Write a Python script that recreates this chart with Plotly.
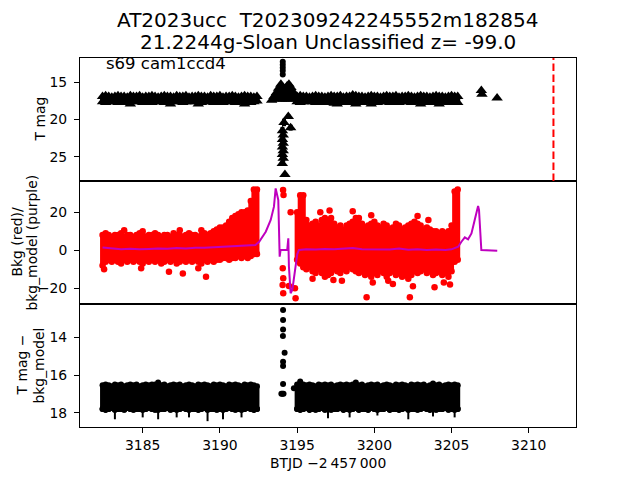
import numpy as np
import plotly.graph_objects as go
from plotly.subplots import make_subplots

# ---------------- data ----------------
T_LEFT = [3182.4, 3182.6, 3182.8, 3183.0, 3183.2, 3183.4, 3183.6, 3183.8, 3184.0, 3184.2,
          3184.4, 3184.6, 3184.8, 3185.0, 3185.2, 3185.4, 3185.6, 3185.8, 3186.0, 3186.2,
          3186.4, 3186.6, 3186.8, 3187.0, 3187.2, 3187.4, 3187.6, 3187.8, 3188.0, 3188.2,
          3188.4, 3188.6, 3188.8, 3189.0, 3189.2, 3189.4, 3189.6, 3189.8, 3190.0, 3190.2,
          3190.4, 3190.6, 3190.8, 3191.0, 3191.2, 3191.4, 3191.6, 3191.8, 3192.0, 3192.2, 3192.4]
T_RIGHT = [3195.0, 3195.2, 3195.4, 3195.6, 3195.8, 3196.0, 3196.2, 3196.4, 3196.6, 3196.8,
           3197.0, 3197.2, 3197.4, 3197.6, 3197.8, 3198.0, 3198.2, 3198.4, 3198.6, 3198.8,
           3199.0, 3199.2, 3199.4, 3199.6, 3199.8, 3200.0, 3200.2, 3200.4, 3200.6, 3200.8,
           3201.0, 3201.2, 3201.4, 3201.6, 3201.8, 3202.0, 3202.2, 3202.4, 3202.6, 3202.8,
           3203.0, 3203.2, 3203.4, 3203.6, 3203.8, 3204.0, 3204.2, 3204.4, 3204.6, 3204.8,
           3205.0, 3205.2, 3205.4]

# Top panel: T mag (bright / faint edges of the dense band)
TOP_BRIGHT_L = [16.9, 16.8, 16.9, 17.0, 16.9, 16.8, 16.9, 16.9, 17.0, 16.8,
                16.9, 16.9, 16.8, 17.0, 16.9, 16.9, 16.8, 16.9, 17.0, 16.9,
                16.8, 16.9, 16.9, 17.0, 16.8, 16.9, 16.9, 16.8, 17.0, 16.9,
                16.9, 16.8, 16.9, 16.9, 17.0, 16.8, 16.9, 16.9, 16.8, 17.0,
                16.9, 16.9, 16.8, 16.9, 17.0, 16.9, 16.8, 16.9, 16.9, 17.0, 16.9]
TOP_FAINT_L = [17.6, 17.7, 17.6, 17.5, 17.6, 17.7, 17.6, 17.6, 17.7, 17.9,
               17.6, 17.5, 17.6, 17.7, 17.6, 17.6, 17.7, 17.6, 17.5, 17.6,
               17.7, 17.6, 17.9, 17.6, 17.5, 17.6, 17.7, 17.6, 17.6, 17.5,
               17.6, 17.9, 17.7, 17.6, 17.6, 17.5, 17.7, 17.6, 17.6, 17.7,
               17.6, 17.5, 17.6, 17.7, 17.6, 17.6, 17.9, 17.6, 17.7, 17.6, 17.5]
TOP_BRIGHT_R = [16.9, 16.8, 16.9, 16.9, 17.0, 16.9, 16.8, 16.9, 16.9, 17.0,
                16.9, 16.8, 16.9, 16.9, 16.8, 17.0, 16.9, 16.9, 16.7, 16.8,
                16.9, 16.9, 17.0, 16.9, 16.8, 16.9, 16.9, 17.0, 16.9, 16.8,
                16.9, 16.9, 16.8, 17.0, 16.9, 16.9, 16.8, 16.9, 17.0, 16.9,
                16.8, 16.9, 16.9, 17.0, 16.9, 16.8, 16.9, 16.9, 17.0, 16.9,
                16.8, 16.9, 16.9]
TOP_FAINT_R = [17.6, 17.7, 17.6, 17.6, 17.5, 17.6, 17.7, 17.6, 17.6, 17.7,
               17.6, 17.7, 17.8, 17.9, 17.7, 17.6, 17.6, 17.7, 17.6, 17.9,
               17.6, 17.7, 17.6, 17.6, 17.9, 17.6, 17.7, 17.6, 17.5, 17.6,
               17.7, 17.6, 17.6, 17.7, 17.6, 17.5, 17.6, 17.7, 17.6, 17.6,
               17.9, 17.6, 17.7, 17.6, 17.6, 17.7, 17.9, 17.6, 17.6, 17.7,
               17.6, 17.6, 17.7]
TENT_T = [3193.35, 3193.5, 3193.65, 3193.8, 3193.95, 3194.05, 3194.15, 3194.25, 3194.35, 3194.47, 3194.6, 3194.75, 3194.9]
TENT_M = [17.4, 16.9, 16.4, 15.8, 15.25, 15.6, 16.0, 15.9, 15.5, 15.25, 15.7, 16.3, 16.9]
TENT_ERR = [0.2, 0.7, 1.2, 1.8, 2.35, 2.0, 1.6, 1.7, 2.1, 2.35, 1.9, 1.3, 0.7]
COL_T = [3194.43, 3194.15, 3194.58, 3194.05, 3194.1, 3194.05, 3194.1, 3194.05, 3194.1, 3194.05, 3194.1, 3194.04, 3194.21]
COL_M = [19.6, 20.4, 21.1, 21.5, 22.1, 22.7, 23.2, 23.7, 24.2, 24.7, 25.2, 25.9, 27.4]
COL_ERR = [0.3, 0.5, 0.4, 0.5, 0.5, 0.5, 0.5, 0.5, 0.5, 0.5, 0.5, 0.3, 0.2]
TOPDOT_T = [3194.07, 3194.07, 3194.07, 3194.07, 3194.07]
TOPDOT_M = [12.25, 12.65, 13.05, 13.45, 13.95]
FAR_T = [3206.93, 3206.97, 3207.95]
FAR_M = [16.1, 16.6, 17.1]
RED_LINE_T = 3211.6

# Middle panel: background (red) high / low edges
MID_HI_L = [8, 9, 8, 7, 8, 8, 9, 7, 8, 8, 7, 8, 9, 8, 7, 8, 8, 9, 8, 7,
            8, 8, 7, 9, 8, 8, 7, 8, 9, 8, 8, 7, 8, 9, 8, 9, 10, 11, 12, 12,
            13, 15, 17, 18, 19, 20, 20, 21, 26, 32, 32]
MID_LO_L = [-8, -6, -5, -6, -5, -6, -7, -5, -6, -5, -6, -5, -6, -7, -5, -6, -5, -6, -5, -7,
            -6, -5, -6, -5, -7, -6, -5, -6, -5, -6, -5, -6, -7, -5, -6, -5, -6, -5, -5, -4,
            -4, -5, -4, -4, -3, -4, -3, -4, -3, -2, -2]
MID_HI_R = [20, 29, 29, 16, 13, 14, 15, 13, 16, 17, 15, 17, 14, 12, 13, 11, 13, 14, 15, 17,
            17, 14, 12, 13, 14, 15, 13, 12, 14, 13, 11, 12, 14, 13, 11, 12, 13, 14, 15, 14,
            13, 11, 12, 11, 10, 10, 9, 10, 9, 10, 13, 31, 32]
MID_LO_R = [-5, -7, -9, -10, -9, -11, -12, -10, -12, -11, -13, -12, -10, -11, -12, -10, -11, -9, -10, -11,
            -12, -11, -13, -12, -14, -12, -13, -11, -12, -14, -12, -11, -13, -12, -14, -13, -15, -13, -11, -12,
            -11, -10, -12, -11, -13, -12, -11, -13, -12, -14, -11, -6, -5]
RED_OUT_T = [3182.5, 3184.9, 3186.7, 3187.6, 3188.6, 3189.1, 3183.8, 3185.0, 3187.4, 3188.8,
             3194.09, 3194.12, 3194.58, 3194.07, 3194.1, 3194.06, 3194.1, 3194.47, 3194.86, 3194.9,
             3196.0, 3196.8, 3197.35, 3197.9, 3199.5, 3199.9, 3200.9, 3201.2, 3202.3, 3202.5,
             3203.9, 3204.5, 3204.9, 3196.5, 3197.1, 3198.6, 3199.8, 3202.8, 3203.5]
RED_OUT_V = [-10, -9.5, -11.3, -12.2, -9.5, -14, 10.5, 10, 10.5, 10.5,
             31.7, 29.1, 20, -9.5, -14.7, -18.3, -22.6, -18.8, -20, -25.3,
             -15, -14, -15.6, -16, -24.7, -17, -16, -17.8, -24.7, -19,
             -19.5, -17, -18, 20, 21, 20.5, 18.5, 18, 16]
# bkg model (purple)
MODEL_T = [3182.4, 3183.0, 3183.6, 3184.2, 3184.8, 3185.4, 3186.0, 3186.6, 3187.2, 3187.8,
           3188.4, 3189.0, 3189.6, 3190.2, 3190.8, 3191.4, 3192.0, 3192.3, 3192.54, 3192.97,
           3193.29, 3193.5, 3193.61, 3193.78, 3193.87, 3193.93, 3194.36, 3194.43, 3194.47, 3194.58,
           3194.69, 3194.86, 3195.01, 3195.12, 3195.6, 3196.2, 3196.8, 3197.4, 3198.0, 3198.6,
           3199.2, 3199.8, 3200.4, 3201.0, 3201.6, 3202.2, 3202.8, 3203.4, 3204.0, 3204.6,
           3205.0, 3205.2, 3205.43, 3205.64, 3205.86, 3206.07, 3206.29, 3206.5, 3206.72, 3206.78,
           3206.93, 3207.96]
MODEL_V = [1.5, 1.0, 0.6, 0.8, 0.5, 0.7, 1.0, 0.8, 1.2, 1.0,
           1.4, 1.3, 1.6, 1.8, 2.0, 2.2, 2.4, 2.8, 4.5, 9.8,
           16.0, 23.0, 32.6, 26.5, -3.4, 0.2, 0.2, 6.3, -8.6, -22.6,
           -20.9, -10.4, -2.0, 0.2, 0.6, 0.4, 0.7, 0.5, 0.8, 1.2,
           0.6, 0.5, 0.7, 0.4, 0.9, 0.3, 0.6, 0.2, 0.4, 0.1,
           0.5, 1.0, 1.9, 4.5, 6.8, 5.8, 8.9, 16.0, 23.3, 21.2,
           0.1, -0.2]

# Bottom panel: T mag - bkg_model
BOT_BRIGHT_L = [16.55, 16.5, 16.55, 16.6, 16.5, 16.55, 16.5, 16.6, 16.55, 16.5,
                16.55, 16.5, 16.6, 16.55, 16.5, 16.55, 16.5, 16.5, 16.4, 16.55,
                16.5, 16.6, 16.55, 16.5, 16.55, 16.5, 16.6, 16.55, 16.5, 16.55,
                16.6, 16.5, 16.55, 16.5, 16.55, 16.6, 16.5, 16.55, 16.5, 16.55,
                16.6, 16.5, 16.55, 16.5, 16.55, 16.6, 16.5, 16.55, 16.5, 16.55, 16.6]
BOT_FAINT_L = [17.8, 17.85, 17.8, 17.75, 17.85, 17.8, 17.8, 17.85, 17.75, 17.8,
               17.85, 17.8, 17.8, 17.85, 17.8, 17.75, 17.8, 17.85, 17.85, 17.8,
               17.8, 17.75, 17.85, 17.8, 17.85, 17.8, 17.75, 17.8, 17.85, 17.8,
               17.8, 17.85, 17.8, 17.75, 17.85, 17.8, 17.8, 17.85, 17.8, 17.85,
               17.8, 17.75, 17.8, 17.85, 17.8, 17.85, 17.8, 17.75, 17.8, 17.85, 17.8]
BOT_SPIKE_L = [0.1, 0.15, 0.1, 0.1, 0.5, 0.1, 0.15, 0.1, 0.1, 0.15,
               0.1, 0.1, 0.15, 0.4, 0.1, 0.1, 0.15, 0.1, 0.5, 0.1,
               0.15, 0.1, 0.1, 0.15, 0.4, 0.1, 0.1, 0.15, 0.4, 0.1,
               0.1, 0.15, 0.1, 0.1, 0.6, 0.1, 0.15, 0.1, 0.1, 0.5,
               0.1, 0.15, 0.1, 0.1, 0.1, 0.4, 0.15, 0.1, 0.1, 0.15, 0.1]
BOT_BRIGHT_R = [16.5, 16.35, 16.5, 16.55, 16.5, 16.55, 16.6, 16.5, 16.55, 16.5,
                16.55, 16.5, 16.6, 16.55, 16.5, 16.55, 16.5, 16.55, 16.5, 16.4,
                16.55, 16.5, 16.6, 16.55, 16.5, 16.55, 16.5, 16.6, 16.55, 16.5,
                16.55, 16.6, 16.5, 16.55, 16.5, 16.55, 16.6, 16.5, 16.55, 16.5,
                16.55, 16.5, 16.6, 16.55, 16.45, 16.55, 16.5, 16.6, 16.55, 16.5,
                16.55, 16.5, 16.55]
BOT_FAINT_R = [17.8, 17.85, 17.8, 17.75, 17.85, 17.8, 17.85, 17.8, 17.75, 17.85,
               17.8, 17.85, 17.8, 17.8, 17.75, 17.85, 17.8, 17.85, 17.8, 17.75,
               17.85, 17.8, 17.8, 17.85, 17.75, 17.8, 17.85, 17.8, 17.8, 17.75,
               17.85, 17.8, 17.8, 17.85, 17.8, 17.75, 17.85, 17.8, 17.8, 17.85,
               17.8, 17.75, 17.8, 17.85, 17.8, 17.85, 17.8, 17.8, 17.75, 17.85,
               17.8, 17.85, 17.8]
BOT_SPIKE_R = [0.1, 0.15, 0.1, 0.1, 0.15, 0.1, 0.1, 0.15, 0.1, 0.1,
               0.5, 0.1, 0.15, 0.1, 0.1, 0.15, 0.1, 0.4, 0.1, 0.1,
               0.15, 0.1, 0.1, 0.15, 0.1, 0.1, 0.3, 0.15, 0.1, 0.1,
               0.15, 0.1, 0.1, 0.15, 0.1, 0.1, 0.5, 0.15, 0.1, 0.1,
               0.15, 0.1, 0.1, 0.15, 0.4, 0.1, 0.1, 0.15, 0.1, 0.1,
               0.15, 0.4, 0.1]
BOT_PT_T = [3194.09, 3194.09, 3194.09, 3194.08, 3194.19, 3194.09, 3194.09, 3194.09, 3193.98, 3194.05, 3194.12, 3194.79]
BOT_PT_M = [12.55, 13.08, 13.58, 13.93, 14.82, 15.29, 15.52, 16.48, 17.0, 17.0, 17.0, 16.7]

X_TICKS = [3185, 3190, 3195, 3200, 3205, 3210]
TITLE_1 = "AT2023ucc  T202309242245552m182854"
TITLE_2 = "21.2244g-Sloan Unclassified z= -99.0"

# ---------------- figure ----------------
FONT = "DejaVu Sans"
BLACK = "black"
RED = "#ff0000"
PURPLE = "#bf00bf"

# the page body has an 8px margin: the figure is shrunk and shifted accordingly
OFF = 8
FIG_W, FIG_H = 640 - OFF, 480 - OFF
M_L, M_T = 80 - OFF, 58 - OFF
M_R, M_B = FIG_W - (576 - OFF), FIG_H - (427 - OFF)

fig = make_subplots(rows=3, cols=1, shared_xaxes=True, vertical_spacing=0)


def band(t, top, bottom, extra, row, symbol, size, color, thick=5):
    top = np.asarray(top, float)
    bottom = np.asarray(bottom, float)
    span = bottom - top if row != 2 else top - bottom
    err = dict(type="data", symmetric=False, color=color, thickness=thick, width=0)
    if row != 2:
        err.update(array=np.zeros_like(bottom), arrayminus=span)
    else:
        err.update(array=span, arrayminus=np.zeros_like(bottom))
    fig.add_trace(go.Scatter(
        x=t, y=bottom, mode="markers",
        marker=dict(symbol=symbol, size=size, color=color),
        error_y=err, showlegend=False), row=row, col=1)
    if extra is not None:
        fig.add_trace(go.Scatter(
            x=t, y=bottom, mode="markers",
            marker=dict(symbol=symbol, size=size, color=color),
            error_y=dict(type="data", symmetric=False, array=np.asarray(extra, float),
                         arrayminus=np.zeros_like(bottom), color=color, thickness=2, width=0),
            showlegend=False), row=row, col=1)
    fig.add_trace(go.Scatter(
        x=t, y=top, mode="markers",
        marker=dict(symbol=symbol, size=size, color=color),
        showlegend=False), row=row, col=1)


# top panel
band(T_LEFT, TOP_BRIGHT_L, TOP_FAINT_L, None, 1, "triangle-up", 10, BLACK)
band(T_RIGHT, TOP_BRIGHT_R, TOP_FAINT_R, None, 1, "triangle-up", 10, BLACK)
fig.add_trace(go.Scatter(x=TENT_T, y=TENT_M, mode="markers",
                         marker=dict(symbol="triangle-up", size=10, color=BLACK),
                         error_y=dict(type="data", symmetric=False, array=TENT_ERR,
                                      arrayminus=np.zeros(len(TENT_T)),
                                      color=BLACK, thickness=6, width=0),
                         showlegend=False), row=1, col=1)
fig.add_trace(go.Scatter(x=COL_T, y=COL_M, mode="markers",
                         marker=dict(symbol="triangle-up", size=10, color=BLACK),
                         error_y=dict(type="data", array=COL_ERR, color=BLACK, thickness=4, width=0),
                         showlegend=False), row=1, col=1)
fig.add_trace(go.Scatter(x=TOPDOT_T, y=TOPDOT_M, mode="markers",
                         marker=dict(symbol="circle", size=6, color=BLACK),
                         showlegend=False), row=1, col=1)
fig.add_trace(go.Scatter(x=FAR_T, y=FAR_M, mode="markers",
                         marker=dict(symbol="triangle-up", size=10, color=BLACK),
                         showlegend=False), row=1, col=1)
fig.add_shape(type="line", x0=RED_LINE_T, x1=RED_LINE_T, y0=0, y1=1,
              xref="x", yref="y domain", line=dict(color=RED, width=2, dash="7.5px,3.5px"))

# middle panel
band(T_LEFT, MID_HI_L, MID_LO_L, None, 2, "circle", 6.5, RED)
band(T_RIGHT, MID_HI_R, MID_LO_R, None, 2, "circle", 6.5, RED)
fig.add_trace(go.Scatter(x=RED_OUT_T, y=RED_OUT_V, mode="markers",
                         marker=dict(symbol="circle", size=6.5, color=RED),
                         showlegend=False), row=2, col=1)
fig.add_trace(go.Scatter(x=MODEL_T, y=MODEL_V, mode="lines",
                         line=dict(color=PURPLE, width=2),
                         showlegend=False), row=2, col=1)

# bottom panel
band(T_LEFT, BOT_BRIGHT_L, BOT_FAINT_L, BOT_SPIKE_L, 3, "circle", 6, BLACK)
band(T_RIGHT, BOT_BRIGHT_R, BOT_FAINT_R, BOT_SPIKE_R, 3, "circle", 6, BLACK)
fig.add_trace(go.Scatter(x=BOT_PT_T, y=BOT_PT_M, mode="markers",
                         marker=dict(symbol="circle", size=6, color=BLACK),
                         showlegend=False), row=3, col=1)

# axes
axis_common = dict(showline=True, mirror=True, linecolor=BLACK, linewidth=1,
                   showgrid=False, zeroline=False,
                   tickfont=dict(family=FONT, size=13.9, color=BLACK))
for r in (1, 2, 3):
    fig.update_xaxes(range=[3180.94, 3213.06], **axis_common, row=r, col=1)
fig.update_xaxes(ticks="", showticklabels=False, row=1, col=1)
fig.update_xaxes(ticks="", showticklabels=False, row=2, col=1)
fig.update_xaxes(ticks="outside", ticklen=5, tickwidth=1, tickcolor=BLACK,
                 tickvals=X_TICKS, showticklabels=True, row=3, col=1)
ycommon = dict(ticks="outside", ticklen=5, tickwidth=1, tickcolor=BLACK, ticklabelstandoff=4)
fig.update_yaxes(range=[28.27, 11.73], tickvals=[15, 20, 25], **axis_common, **ycommon, row=1, col=1)
fig.update_yaxes(range=[-28.3, 36.5], tickvals=[-20, 0, 20], **axis_common, **ycommon, row=2, col=1)
fig.update_yaxes(range=[18.76, 12.23], tickvals=[14, 16, 18], **axis_common, **ycommon, row=3, col=1)

PLOT_W = FIG_W - M_L - M_R
PLOT_H = FIG_H - M_T - M_B


def px_x(p):
    # page pixel -> paper coordinate
    return (p - OFF - M_L) / PLOT_W


def px_y(p):
    return (FIG_H - M_B - (p - OFF)) / PLOT_H


ann = []
lab = dict(family=FONT, size=13.9, color=BLACK)
ann.append(dict(text=TITLE_1, x=0.5, y=px_y(20), xref="paper", yref="paper",
                showarrow=False, font=dict(family=FONT, size=20, color=BLACK),
                xanchor="center", yanchor="middle"))
ann.append(dict(text=TITLE_2, x=0.5, y=px_y(42), xref="paper", yref="paper",
                showarrow=False, font=dict(family=FONT, size=20, color=BLACK),
                xanchor="center", yanchor="middle"))
ann.append(dict(text="s69 cam1ccd4", x=px_x(104), y=px_y(64), xref="paper", yref="paper",
                showarrow=False, font=dict(family=FONT, size=16.5, color=BLACK),
                xanchor="left", yanchor="middle"))
ann.append(dict(text="T mag", x=px_x(40), y=px_y(119.5), xref="paper", yref="paper",
                showarrow=False, font=lab, textangle=-90, xanchor="center", yanchor="middle"))
ann.append(dict(text="Bkg (red)/", x=px_x(16), y=px_y(242.5), xref="paper", yref="paper",
                showarrow=False, font=lab, textangle=-90, xanchor="center", yanchor="middle",
                borderpad=0))
ann.append(dict(text="bkg_model (purple)", x=px_x(31), y=px_y(242.5), xref="paper", yref="paper",
                showarrow=False, font=lab, textangle=-90, xanchor="center", yanchor="middle"))
ann.append(dict(text="T mag \u2212", x=px_x(21), y=px_y(365.5), xref="paper", yref="paper",
                showarrow=False, font=lab, textangle=-90, xanchor="center", yanchor="middle"))
ann.append(dict(text="bkg_model", x=px_x(38), y=px_y(365.5), xref="paper", yref="paper",
                showarrow=False, font=lab, textangle=-90, xanchor="center", yanchor="middle"))
ann.append(dict(text="BTJD \u22122\u2009457\u2009000", x=0.5, y=px_y(463), xref="paper", yref="paper",
                showarrow=False, font=lab, xanchor="center", yanchor="middle"))

fig.update_layout(width=FIG_W, height=FIG_H,
                  margin=dict(l=M_L, r=M_R, t=M_T, b=M_B, pad=0),
                  plot_bgcolor="white", paper_bgcolor="white",
                  font=dict(family=FONT, color=BLACK),
                  showlegend=False, annotations=ann)

fig.write_html("out.html")
